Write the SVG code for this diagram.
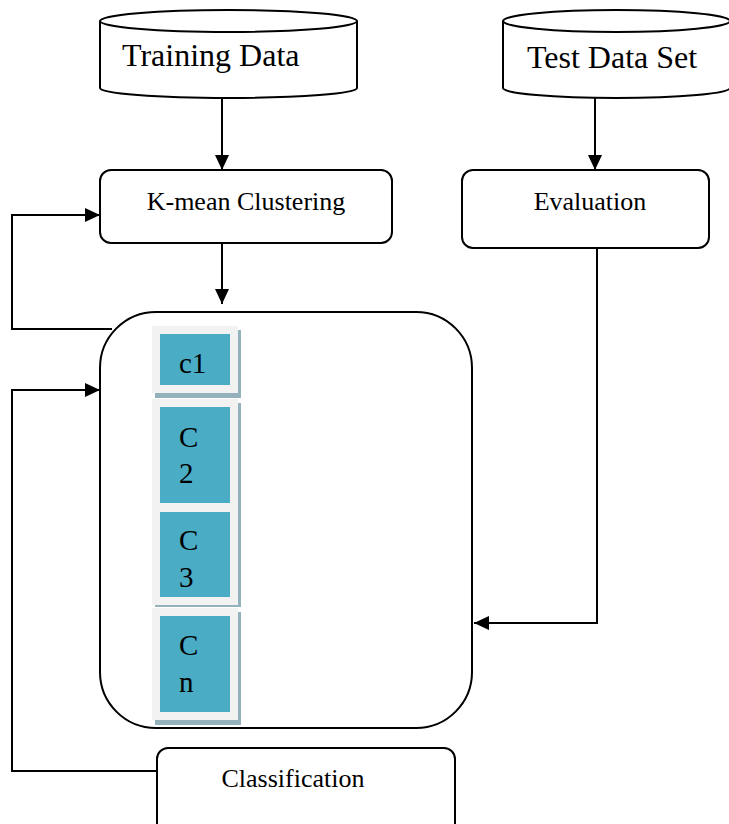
<svg xmlns="http://www.w3.org/2000/svg" width="729" height="824" viewBox="0 0 729 824">
  <style>
    .shape { fill: #ffffff; stroke: #000000; stroke-width: 2; }
    .wire { fill: none; stroke: #000000; stroke-width: 2; }
    .big { font-family: "Liberation Serif", "Times New Roman", serif; font-size: 32px; fill: #000; }
    .lbl { font-family: "Liberation Serif", "Times New Roman", serif; font-size: 26px; fill: #000; text-anchor: middle; }
    .cell { font-family: "Liberation Serif", "Times New Roman", serif; font-size: 29px; fill: #000; }
    .frame { fill: #f2f2f2; }
    .shade { fill: #93b2bc; }
    .core { fill: #4bacc6; }
  </style>
  <defs>
    <marker id="arrow" markerUnits="userSpaceOnUse" markerWidth="16" markerHeight="16" refX="15" refY="7" orient="auto">
      <path d="M0,0 L15,7 L0,14 Z" fill="#000"/>
    </marker>
  </defs>

  <rect width="729" height="824" fill="#ffffff"/>

  <!-- data stores -->
  <g id="training-data">
    <path class="shape" d="M100,21 V88 A128.5,10 0 0 0 357,88 V21"/>
    <ellipse class="shape" cx="228.5" cy="21" rx="128.5" ry="11"/>
    <text class="big" x="122" y="66">Training Data</text>
  </g>
  <g id="test-data">
    <path class="shape" d="M503,21 V88 A113.5,10 0 0 0 730,88 V21"/>
    <ellipse class="shape" cx="616.5" cy="21" rx="113.5" ry="11"/>
    <text class="big" x="527" y="68">Test Data Set</text>
  </g>

  <!-- process boxes -->
  <g id="kmean">
    <rect class="shape" x="100" y="170" width="292" height="73" rx="11"/>
    <text class="lbl" x="246" y="210">K-mean Clustering</text>
  </g>
  <g id="evaluation">
    <rect class="shape" x="462" y="170" width="247" height="78" rx="11"/>
    <text class="lbl" x="590" y="210">Evaluation</text>
  </g>
  <g id="classification">
    <rect class="shape" x="157" y="748" width="298" height="100" rx="11"/>
    <text class="lbl" x="293" y="787">Classification</text>
  </g>

  <!-- cluster container -->
  <g id="clusters">
    <rect class="shape" x="100" y="312" width="372" height="416" rx="56"/>

    <g id="c1">
      <rect class="shade" x="155" y="330" width="86" height="68"/>
      <rect class="frame" x="152" y="326" width="86" height="67"/>
      <rect class="core" x="160" y="334" width="70" height="51"/>
      <text class="cell" x="179" y="373">c1</text>
    </g>
    <g id="c2">
      <rect class="shade" x="155" y="403" width="86" height="110"/>
      <rect class="frame" x="152" y="399" width="86" height="110"/>
      <rect class="core" x="160" y="407" width="70" height="96"/>
      <text class="cell" x="179" y="447">C</text>
      <text class="cell" x="179" y="483">2</text>
    </g>
    <g id="c3">
      <rect class="shade" x="155" y="508" width="86" height="99"/>
      <rect class="frame" x="152" y="504" width="86" height="101"/>
      <rect class="core" x="160" y="512" width="70" height="85"/>
      <text class="cell" x="179" y="550">C</text>
      <text class="cell" x="179" y="587">3</text>
    </g>
    <g id="cn">
      <rect class="shade" x="155" y="612" width="86" height="113"/>
      <rect class="frame" x="152" y="608" width="86" height="112"/>
      <rect class="core" x="160" y="616" width="70" height="96"/>
      <text class="cell" x="179" y="655">C</text>
      <text class="cell" x="179" y="692">n</text>
    </g>
  </g>

  <!-- connectors -->
  <g id="connectors">
    <path class="wire" d="M222,98 V170" marker-end="url(#arrow)"/>
    <path class="wire" d="M595,98 V170" marker-end="url(#arrow)"/>
    <path class="wire" d="M222,243 V304" marker-end="url(#arrow)"/>
    <path class="wire" d="M112,329 H12 V215 H100" marker-end="url(#arrow)"/>
    <path class="wire" d="M157,771 H12 V390 H100" marker-end="url(#arrow)"/>
    <path class="wire" d="M597,248 V623 H474" marker-end="url(#arrow)"/>
  </g>
</svg>
